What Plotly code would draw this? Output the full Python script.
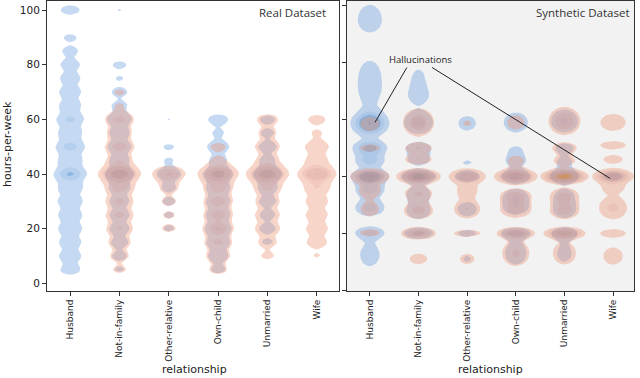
import numpy as np
import plotly.graph_objects as go

# ---------------- data ----------------
categories = ["Husband", "Not-in-family", "Other-relative", "Own-child", "Unmarried", "Wife"]
y_ticks = [0, 20, 40, 60, 80, 100]
panel_titles = ["Real Dataset", "Synthetic Dataset"]

# Real dataset: respondents per hours-per-week value (relative counts), one row per relationship
real_hours = [5, 10, 15, 20, 25, 30, 35, 40, 45, 50, 55, 60, 65, 70, 75, 80, 85, 90, 95, 100]
real_male = [
    [165, 183, 183, 205, 205, 218, 218, 424, 218, 300, 205, 266, 183, 183, 165, 157, 132, 120, 0, 157],
    [108, 128, 144, 165, 165, 165, 183, 308, 165, 205, 165, 218, 132, 132, 102, 124, 0, 0, 0, 102],
    [0, 0, 0, 113, 108, 120, 124, 218, 105, 113, 0, 101, 0, 0, 0, 0, 0, 0, 0, 0],
    [128, 165, 205, 249, 218, 218, 218, 308, 144, 183, 113, 165, 0, 0, 0, 0, 0, 0, 0, 0],
    [0, 0, 113, 138, 132, 144, 165, 308, 132, 150, 120, 132, 0, 0, 0, 0, 0, 0, 0, 0],
    [0, 0, 0, 0, 0, 0, 0, 0, 0, 0, 0, 0, 0, 0, 0, 0, 0, 0, 0, 0],
]
real_female = [
    [0, 0, 0, 0, 0, 0, 0, 0, 0, 0, 0, 0, 0, 0, 0, 0, 0, 0, 0, 0],
    [120, 150, 183, 249, 266, 266, 308, 1120, 218, 308, 218, 286, 103, 113, 0, 0, 0, 0, 0, 0],
    [0, 0, 0, 124, 113, 124, 150, 424, 0, 0, 0, 0, 0, 0, 0, 0, 0, 0, 0, 0],
    [144, 205, 266, 360, 308, 308, 308, 910, 120, 132, 0, 0, 0, 0, 0, 0, 0, 0, 0, 0],
    [0, 120, 150, 218, 218, 205, 266, 1120, 183, 218, 144, 174, 0, 0, 0, 0, 0, 0, 0, 0],
    [0, 101, 165, 183, 183, 183, 233, 742, 183, 205, 108, 144, 0, 0, 0, 0, 0, 0, 0, 0],
]

# Synthetic dataset: clusters of (hours-per-week, relative count, spread in hours)
syn_male = [
    [(97, 140, 3.6), (93.5, 110, 3), (76, 157, 4.7), (69, 138, 4.4), (58.7, 742, 2.5), (50, 505, 1.67),
     (45.5, 308, 1.67), (40, 670, 1.5), (35.5, 308, 2), (29, 308, 2), (20.2, 286, 1.5), (12.5, 165, 4)],
    [(74, 128, 5), (68, 113, 2.4), (59, 308, 2.7), (50, 218, 1.6), (46, 183, 1.8), (40, 505, 1.4),
     (34, 205, 2.1), (28, 218, 2.4), (20, 308, 1.33)],
    [(58.7, 150, 2.8), (45, 108, 1.5), (40, 218, 1.6), (28.5, 165, 2.5), (20, 150, 1.33), (11, 108, 2.5)],
    [(59, 218, 2.8), (49.5, 113, 1.8), (45.5, 165, 1.8), (40, 308, 1.67), (33, 218, 2), (29, 218, 2),
     (20, 308, 1.33), (13, 183, 3.6)],
    [(59.5, 266, 2.9), (50, 150, 1.67), (45, 132, 2), (40, 308, 1.67), (33, 165, 2.5), (28, 183, 2.3),
     (20, 218, 1.6), (13, 132, 4)],
    [(40, 165, 1.5)],
]
syn_female = [
    [(58.5, 165, 2.5), (50, 165, 1.2), (40, 818, 1.41), (35, 183, 1.8), (28.5, 157, 2.6), (20.2, 165, 1.2)],
    [(59, 360, 3.1), (50, 249, 1.33), (46, 249, 1.33), (40, 1410, 1.26), (34, 266, 1.8), (28, 308, 2),
     (20, 505, 1.22), (11, 150, 2)],
    [(58.7, 108, 2.5), (40, 610, 1.5), (35, 165, 2), (28.5, 249, 2.4), (20, 249, 0.9), (11, 132, 2.4)],
    [(59, 150, 2.8), (45.5, 144, 2.1), (40, 1260, 1.29), (33, 360, 1.75), (28.5, 360, 1.9), (20, 670, 1.13),
     (13, 266, 3.2)],
    [(59.5, 390, 3), (50, 218, 1.44), (45.5, 183, 1.6), (40, 2280, 1.16), (33, 308, 2), (28, 308, 2),
     (20, 1010, 1.07), (13, 205, 3.3)],
    [(59, 233, 2.3), (51, 233, 1.08), (46, 165, 1.5), (40, 1010, 1.35), (36, 183, 1.4), (29, 286, 2.8),
     (20, 233, 1.08), (12, 165, 3)],
]

# ---------------- rendering of the density contours ----------------
S_X = 0.2          # horizontal kernel width (category units)
REAL_SD = 1.8      # vertical kernel width for real data (hours)
THRESH = 100.0     # lowest contour level
LEVELS = [0.0, 0.9, 1.4, 2.0, 2.7, 3.0]   # log-ratios of contour levels above threshold
yy = np.arange(-4.0, 106.0, 0.1)

BLUE_FILLS = ["rgba(110,160,222,0.40)", "rgba(90,145,210,0.15)", "rgba(50,130,205,0.30)",
              "rgba(45,115,185,0.25)", "rgba(40,100,170,0.25)", "rgba(40,95,165,0.25)"]
ORANGE_FILLS = ["rgba(238,150,120,0.40)", "rgba(195,130,125,0.14)", "rgba(185,125,118,0.14)",
                "rgba(180,120,112,0.14)", "rgba(218,142,60,0.35)", "rgba(215,135,45,0.35)"]


def density_real(counts):
    g = np.zeros_like(yy)
    for h, c in zip(real_hours, counts):
        if c > 0:
            g += c * np.exp(-(yy - h) ** 2 / (2 * REAL_SD ** 2))
    return g


def density_syn(clusters):
    g = np.zeros_like(yy)
    for h, c, sd in clusters:
        g += c * np.exp(-(yy - h) ** 2 / (2 * sd ** 2))
    return g


def level_polys(g, xc, lvl):
    thr = THRESH * np.exp(lvl)
    m = g > thr
    xs, ys = [], []
    idx = np.flatnonzero(m)
    if len(idx) == 0:
        return xs, ys
    hw = np.zeros_like(g)
    hw[m] = S_X * np.sqrt(2 * np.log(g[m] / thr))
    runs = np.split(idx, np.where(np.diff(idx) > 1)[0] + 1)
    for r in runs:
        lo = max(r[0] - 1, 0)
        hi = min(r[-1] + 1, len(yy) - 1)
        seg = np.arange(lo, hi + 1)
        y_seg = yy[seg]
        h_seg = hw[seg]
        xp = np.concatenate([xc + h_seg, (xc - h_seg)[::-1]])
        yp = np.concatenate([y_seg, y_seg[::-1]])
        xs += [round(float(v), 4) for v in xp] + [None]
        ys += [round(float(v), 3) for v in yp] + [None]
    return xs, ys


fig = go.Figure()

panels = [
    ("x", "y", [density_real(c) for c in real_male], [density_real(c) for c in real_female]),
    ("x2", "y2", [density_syn(c) for c in syn_male], [density_syn(c) for c in syn_female]),
]
for xa, ya, male_d, female_d in panels:
    for dens, fills, name in [(male_d, BLUE_FILLS, "Male"), (female_d, ORANGE_FILLS, "Female")]:
        for li, lvl in enumerate(LEVELS):
            X, Y = [], []
            for ci in range(len(categories)):
                xs, ys = level_polys(dens[ci], ci, lvl)
                X += xs
                Y += ys
            if not X:
                continue
            fig.add_trace(go.Scatter(x=X, y=Y, xaxis=xa, yaxis=ya, mode="lines", fill="toself",
                                     fillcolor=fills[li], line=dict(width=0, color="rgba(0,0,0,0)"),
                                     hoverinfo="skip", showlegend=False, name=name))

# ---------------- layout ----------------
W, H = 640, 378
xl = [47 / W, 339 / W]
xr = [347 / W, 634 / W]
yd = [87 / H, 377 / H]
tickfont_y = dict(family="DejaVu Sans", size=10.5, color="#222")
tickfont_x = dict(family="DejaVu Sans", size=9, color="#222")
common_x = dict(tickmode="array", tickvals=list(range(len(categories))), ticktext=categories,
                tickangle=-90, tickfont=tickfont_x, ticks="outside", ticklen=4, tickcolor="#333",
                showline=True, linecolor="#333", linewidth=1, mirror=True, showgrid=False, zeroline=False)
common_y = dict(tickmode="array", tickvals=y_ticks, ticks="outside", ticklen=4, tickcolor="#333",
                showline=True, linecolor="#333", linewidth=1, mirror=True, showgrid=False, zeroline=False)

fig.update_layout(
    width=W, height=H, margin=dict(l=0, r=0, t=0, b=0),
    paper_bgcolor="white", plot_bgcolor="white",
    xaxis=dict(domain=xl, range=[-0.47, 5.45], anchor="y", **common_x),
    yaxis=dict(domain=yd, range=[-2.8, 103.3], anchor="x", tickfont=tickfont_y, **common_y),
    xaxis2=dict(domain=xr, range=[-0.47, 5.43], anchor="y2", **common_x),
    yaxis2=dict(domain=yd, range=[-0.28, 101.7], anchor="x2", showticklabels=False, **common_y),
    showlegend=False,
)

# gray background for synthetic panel
fig.add_shape(type="rect", xref="x2 domain", yref="y2 domain", x0=0, x1=1, y0=0, y1=1,
              fillcolor="#f2f2f2", line=dict(width=0), layer="below")

ann_font = dict(family="Open Sans", size=11.5, color="#333")
fig.add_annotation(x=328 / W, y=1 - 12 / H, xref="paper", yref="paper", text=panel_titles[0],
                   showarrow=False, xanchor="right", yanchor="middle", font=ann_font)
fig.add_annotation(x=632 / W, y=1 - 12 / H, xref="paper", yref="paper", text=panel_titles[1],
                   showarrow=False, xanchor="right", yanchor="middle", font=ann_font)

title_font = dict(family="DejaVu Sans", size=11, color="#222")
fig.add_annotation(x=194 / W, y=1 - 369.5 / H, xref="paper", yref="paper", text="relationship",
                   showarrow=False, xanchor="center", yanchor="middle", font=title_font)
fig.add_annotation(x=490 / W, y=1 - 369.5 / H, xref="paper", yref="paper", text="relationship",
                   showarrow=False, xanchor="center", yanchor="middle", font=title_font)
fig.add_annotation(x=7 / W, y=1 - 144 / H, xref="paper", yref="paper", text="hours-per-week",
                   showarrow=False, textangle=-90, xanchor="center", yanchor="middle", font=title_font)

# Hallucinations callout
fig.add_annotation(x=1.05, y=81.1, xref="x2", yref="y2", text="Hallucinations", showarrow=False,
                   font=dict(family="Open Sans", size=9.5, color="#222"))
fig.add_shape(type="line", xref="x2", yref="y2", x0=0.76, y0=78.3, x1=0.105, y1=59,
              line=dict(color="#222", width=1))
fig.add_shape(type="line", xref="x2", yref="y2", x0=1.28, y0=78.3, x1=4.94, y1=39.3,
              line=dict(color="#222", width=1))

fig.write_html("out.html", config={"displayModeBar": False},
               post_script="document.body.style.margin='0';document.body.style.padding='0';")
